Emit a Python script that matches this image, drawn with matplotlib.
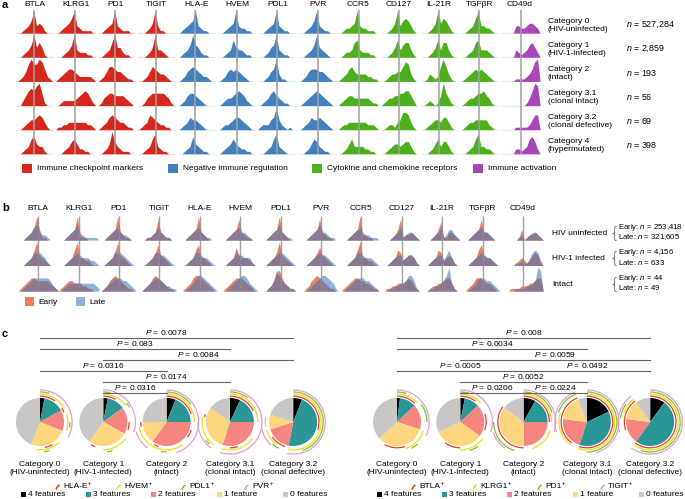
import numpy as np
import matplotlib.pyplot as plt
from matplotlib.patches import Arc, Rectangle

plt.rcParams['font.family'] = ['Liberation Sans', 'DejaVu Sans']
plt.rcParams['font.size'] = 6.0
plt.rcParams['mathtext.fontset'] = 'custom'
plt.rcParams['mathtext.it'] = 'Liberation Sans:italic'
plt.rcParams['mathtext.rm'] = 'Liberation Sans'

# ---- data ----
markers = ["BTLA", "KLRG1", "PD1", "TIGIT", "HLA-E", "HVEM", "PDL1", "PVR",
           "CCR5", "CD127", "IL-21R", "TGFβR", "CD49d"]
marker_group = [0, 0, 0, 0, 1, 1, 1, 1, 2, 2, 2, 2, 3]
group_names = ["Immune checkpoint markers", "Negative immune regulation",
               "Cytokine and chemokine receptors", "Immune activation"]
group_colors = ["#d7261c", "#4280bf", "#4cb01c", "#a846ba"]
gray_pos = [0.47, 0.485, 0.47, 0.49, 0.455, 0.5, 0.485, 0.5, 0.51, 0.5, 0.495, 0.485, 0.52]

cat_a = ["Category 0\n(HIV-uninfected)", "Category 1\n(HIV-1-infected)", "Category 2\n(intact)",
         "Category 3.1\n(clonal intact)", "Category 3.2\n(clonal defective)", "Category 4\n(hypermutated)"]
n_a = ["527,284", "2,859", "193", "56", "69", "398"]

# density profiles (16 points across each cell, 0-9)
dens_a = {
    "BTLA": ["0001235934310000", "0001235946410000", "0012479779852100", "0002467689510000", "0001234456531000", "0001236743310000"],
    "KLRG1": ["0012346932111100", "0001235932221100", "0123455432222210", "0012222234565310", "0112233333332210", "0001235642211000"],
    "PD1": ["0001234932111000", "0001236944211000", "0012466544321100", "0013455444432100", "0012356543321100", "0001249532111000"],
    "TIGIT": ["0000124931100000", "0000124933210000", "0001246543321000", "0001345555543100", "0012365432211000", "0001236832110000"],
    "HLA-E": ["0012345932110000", "0012359542110000", "0012456543221000", "0012455432100000", "0012354432100000", "0001237432110000"],
    "HVEM": ["0001234932211000", "0001237433211000", "0012454543210000", "0012334565421000", "0012234554321000", "0012346432211000"],
    "PDL1": ["0001234932110000", "0001245932110000", "0001245931100000", "0012356432110000", "0122245942101000", "0001236832100000"],
    "PVR": ["0001235932110000", "0001235943210000", "0012455544321000", "0012345654321000", "0012354454321000", "0001246532110000"],
    "CCR5": ["0012234932211100", "0012236732221100", "0123564333322110", "0123443333332110", "0122333333322210", "0012463333221100"],
    "CD127": ["0000124935653100", "0000124735663100", "0001233446873100", "0012334455664200", "0001221347763100", "0001234434553100"],
    "IL-21R": ["0000124946531000", "0000124736631000", "0001321269631000", "0001210149531000", "0001234435531000", "0000124635531000"],
    "TGFβR": ["0001236933221000", "0001236733321000", "0012345454321000", "0012334556431000", "0012334444421000", "0001236833221000"],
    "CD49d": ["0000003322344320", "0000003212356420", "0000001111235890", "0000000000136980", "0000001111124660", "0000002212367520"],
}

rows_b = ["HIV uninfected", "HIV-1 infected", "Intact"]
n_early = ["253,418", "4,156", "44"]
n_late = ["321,605", "633", "49"]
early_b = {
    "BTLA": ["0001235941100000", "0001236943210000", "0123455444443210"],
    "KLRG1": ["0001234931100000", "0001236933221000", "0123443332211000"],
    "PD1": ["0001234932110000", "0001235943210000", "0012456543211000"],
    "TIGIT": ["0001123832110000", "0001235843210000", "0012356543211000"],
    "HLA-E": ["0001234932100000", "0001236833210000", "0012356654321000"],
    "HVEM": ["0001234832110000", "0001237433321000", "0012345554321000"],
    "PDL1": ["0001234932100000", "0001235943210000", "0001247853211000"],
    "PVR": ["0001234832110000", "0001235743210000", "0012456543211000"],
    "CCR5": ["0001234922110000", "0001236933221000", "0123455443321100"],
    "CD127": ["0000124812232100", "0001236523443100", "0011223334542100"],
    "IL-21R": ["0000124711332100", "0001236523431000", "0001223345531000"],
    "TGFβR": ["0001234833210000", "0001236843321000", "0012355543321000"],
    "CD49d": ["0000001401223210", "0000012321245410", "0001111222334550"],
}
late_b = {
    "BTLA": ["0001235632210000", "0001235554310000", "0012345555554210"],
    "KLRG1": ["0001234622111110", "0001234543332210", "0012333333333321"],
    "PD1": ["0001234532210000", "0001236554321000", "0012345554432100"],
    "TIGIT": ["0001123532110000", "0001235544321000", "0012345543221100"],
    "HLA-E": ["0001234532110000", "0001235543321000", "0001235665432100"],
    "HVEM": ["0001234533210000", "0001235443331000", "0001234566532100"],
    "PDL1": ["0001234632110000", "0001234554321000", "0001248643211000"],
    "PVR": ["0001234633211000", "0001234544321000", "0001234566543100"],
    "CCR5": ["0001234532211100", "0001235543332100", "0012345554432100"],
    "CD127": ["0000123512332100", "0001234423443100", "0001122334664100"],
    "IL-21R": ["0000123512442100", "0001234424631000", "0001122346931000"],
    "TGFβR": ["0001234533210000", "0001234543321000", "0001235554432100"],
    "CD49d": ["0000001201233210", "0000011211356520", "0000011112234980"],
}

cat_c = ["Category 0\n(HIV-uninfected)", "Category 1\n(HIV-1-infected)", "Category 2\n(intact)",
         "Category 3.1\n(clonal intact)", "Category 3.2\n(clonal defective)"]
feature_labels = ["4 features", "3 features", "2 features", "1 feature", "0 features"]
feature_colors = ["#000000", "#2a9696", "#f6857f", "#fdd67e", "#c9c6c6"]
arc_colors = ["#e8402a", "#f2dc1c", "#7cc42c", "#e69ad6"]
arc_names_left = ["HLA-E⁺", "HVEM⁺", "PDL1⁺", "PVR⁺"]
arc_names_right = ["BTLA⁺", "KLRG1⁺", "PD1⁺", "TIGIT⁺"]

pie_left = [[0.03, 0.14, 0.14, 0.25, 0.44],
            [0.03, 0.12, 0.18, 0.27, 0.40],
            [0.06, 0.19, 0.35, 0.15, 0.25],
            [0.07, 0.18, 0.30, 0.30, 0.15],
            [0.06, 0.47, 0.17, 0.10, 0.20]]
pie_right = [[0.02, 0.11, 0.17, 0.33, 0.37],
             [0.03, 0.10, 0.22, 0.33, 0.32],
             [0.08, 0.17, 0.25, 0.35, 0.15],
             [0.18, 0.37, 0.22, 0.17, 0.06],
             [0.10, 0.50, 0.17, 0.13, 0.10]]

# arc segments (fraction of circle, clockwise from top) per pie, per marker
arcs_left = [
    [[(0, .10), (.16, .19), (.42, .47)], [(0, .17), (.20, .30), (.38, .52)], [(0, .05), (.25, .28), (.45, .48)], [(0, .33)]],
    [[(0, .08), (.25, .30), (.55, .58)], [(0, .15), (.35, .50)], [(0, .04), (.14, .17), (.45, .48)], [(0, .30)]],
    [[(0, .20), (.30, .35), (.55, .58), (.72, .75)], [(0, .25), (.40, .72)], [(0, .15), (.50, .53)], [(0, .45), (.60, .70)]],
    [[(0, .18), (.45, .50), (.78, .80)], [(0, .25), (.35, .55), (.60, .78)], [(0, .10), (.62, .65)], [(0, .55), (.60, .75)]],
    [[(0, .30), (.55, .65)], [(0, .53), (.60, .70), (.72, .78)], [(0, .45), (.58, .62)], [(0, .53), (.62, .72)]],
]
arcs_right = [
    [[(0, .12), (.45, .58)], [(0, .13), (.30, .45)], [(0, .05), (.15, .25), (.38, .42)], [(0, .32)]],
    [[(0, .10), (.20, .30), (.50, .60)], [(0, .13), (.35, .50)], [(0, .05), (.40, .45)], [(0, .30)]],
    [[(0, .25), (.50, .85)], [(0, .25), (.30, .45)], [(0, .20), (.55, .75)], [(0, .30), (.60, .70)]],
    [[(0, .55), (.60, .94)], [(0, .55), (.60, .80)], [(0, .50), (.80, .94)], [(0, .45), (.70, .94)]],
    [[(0, .60), (.70, .90)], [(0, .60), (.80, .90)], [(0, .55), (.77, .85)], [(0, .60), (.70, .90)]],
]

# (label, from pie, to pie, bracket level)
pvals_left = [("0.0078", 0, 4, 0), ("0.083", 0, 3, 1), ("0.0084", 1, 4, 2),
              ("0.0316", 0, 2, 3), ("0.0174", 1, 3, 4), ("0.0316", 1, 2, 5)]
pvals_right = [("0.008", 0, 4, 0), ("0.0034", 0, 3, 1), ("0.0059", 1, 4, 2),
               ("0.0005", 0, 2, 3), ("0.0492", 2, 4, 3), ("0.0052", 1, 3, 4),
               ("0.0206", 1, 2, 5), ("0.0224", 2, 3, 5)]

W, H = 685, 499
fig = plt.figure(figsize=(W / 100, H / 100), dpi=100)


def px_axes(x, y, w, h):
    return fig.add_axes([x / W, 1 - (y + h) / H, w / W, h / H])


def profile(s):
    v = np.array([int(ch) for ch in s]) / 9.0
    return np.linspace(0, 1, len(v)), v


# overlay in pixel coordinates for panel letters and legends
ov = px_axes(0, 0, W, H)
ov.set_xlim(0, W)
ov.set_ylim(H, 0)
ov.axis('off')
for lbl, y in [("a", 5), ("b", 208), ("c", 334)]:
    ov.text(2, y, lbl, fontweight='bold', fontsize=8, va='center')

# ---- panel a ----
axa = px_axes(15, 9, 525.2, 146)
axa.set_xlim(0, 13)
axa.set_ylim(-0.05, 6.0)
axa.axis('off')
for c, m in enumerate(markers):
    col = group_colors[marker_group[c]]
    for r, s in enumerate(dens_a[m]):
        x, y = profile(s)
        base = 5 - r
        axa.fill_between(c + x, base, base + 0.92 * y, color=col, lw=0)
        axa.plot([c + 0.05, c + 0.95], [base, base], color=col, alpha=0.15, lw=0.8)
    axa.vlines(c + gray_pos[c], -0.02, 5.95, color='#a0a0a0', lw=1.3, alpha=0.85)
    axa.text(c + 0.5, 6.2, m, ha='center', va='center')
for r in range(6):
    axa.text(13.19, 5 - r + 0.33, cat_a[r], ha='left', va='center')
    axa.text(15.12, 5 - r + 0.36, r"$n$ = " + n_a[r], ha='left', va='center', fontsize=6.4)

for x0, name, col in zip([22, 168, 312, 473], group_names, group_colors):
    ov.add_patch(Rectangle((x0, 164), 10, 9, color=col, lw=0))
    ov.text(x0 + 15, 169, name, va='center')

# ---- panel b ----
c_early, c_late, c_both = "#ef7f5a", "#8fb3d8", "#8a7890"
axb = px_axes(18, 214.5, 525.2, 77.8)
axb.set_xlim(0, 13)
axb.set_ylim(-0.05, 3.0)
axb.axis('off')
for c, m in enumerate(markers):
    for r in range(3):
        x, ye = profile(early_b[m][r])
        _, yl = profile(late_b[m][r])
        base = 2 - r
        axb.fill_between(c + x, base, base + 0.92 * ye, color=c_early, lw=0)
        axb.fill_between(c + x, base, base + 0.92 * yl, color=c_late, lw=0)
        axb.fill_between(c + x, base, base + 0.92 * np.minimum(ye, yl), color=c_both, lw=0)
    axb.vlines(c + 0.5, -0.02, 2.95, color='#8c8c8c', lw=1.0, alpha=0.8)
    axb.text(c + 0.5, 3.25, m, ha='center', va='center')
for r in range(3):
    base = 2 - r
    axb.text(13.22, base + 0.27, rows_b[r], ha='left', va='center')
    axb.text(14.63, base + 0.3, "{", ha='left', va='center', fontsize=11, color='#444444',
             family='DejaVu Sans', fontweight='light')
    axb.text(14.85, base + 0.5, r"Early: $n$ = " + n_early[r], ha='left', va='center', fontsize=5.6)
    axb.text(14.85, base + 0.13, r"Late: $n$ = " + n_late[r], ha='left', va='center', fontsize=5.6)

for x0, name, col in [(25, "Early", c_early), (76, "Late", c_late)]:
    ov.add_patch(Rectangle((x0, 297), 9, 9, color=col, lw=0))
    ov.text(x0 + 13, 302, name, va='center')

# ---- panel c ----
axc = px_axes(0, 325, W, 174)
axc.set_aspect('equal')
pie_y = 77
R = 24
step = 63.3
groups_c = [
    (40, 0, pie_left, arcs_left, pvals_left, arc_names_left),
    (397, 356, pie_right, arcs_right, pvals_right, arc_names_right),
]
for x0, off, pies, arcs, pvals, names in groups_c:
    for i, fr in enumerate(pies):
        cx = x0 + i * step
        axc.pie(fr, colors=feature_colors, startangle=90, counterclock=False,
                center=(cx, pie_y), radius=R, frame=True, wedgeprops=dict(lw=0))
        for k, segs in enumerate(arcs[i]):
            rr = R + 1.8 + 2.1 * k
            for f1, f2 in segs:
                axc.add_patch(Arc((cx, pie_y), 2 * rr, 2 * rr, theta1=90 - 360 * f2,
                                  theta2=90 - 360 * f1, color=arc_colors[k], lw=0.9))
        axc.text(cx, 30, cat_c[i], ha='center', va='center')
    for lbl, i, j, lev in pvals:
        xa, xb = x0 + i * step, x0 + j * step
        y = 161 - 11 * lev
        axc.plot([xa, xb], [y, y], color='#666666', lw=0.8)
        axc.text((xa + xb) / 2, y + 1.2, r"$P$ = " + lbl, ha='center', va='bottom')
    # marker legend
    for k, (ax_x, name) in enumerate(zip([58, 119, 184, 247], names)):
        axc.add_patch(Arc((off + ax_x + 5, 8), 14, 14, theta1=120, theta2=170,
                          color=arc_colors[k], lw=1.2))
        axc.text(off + ax_x + 5, 13, name, ha='left', va='center')
    # feature legend
    for k, (sx, name) in enumerate(zip([21, 86, 151, 217, 283], feature_labels)):
        axc.add_patch(Rectangle((off + sx, 2), 5, 5, color=feature_colors[k], lw=0))
        axc.text(off + sx + 7, 4.5, name, ha='left', va='center')

axc.set_xlim(0, W)
axc.set_ylim(0, 174)
axc.axis('off')

fig.savefig("out.png", dpi=100)
